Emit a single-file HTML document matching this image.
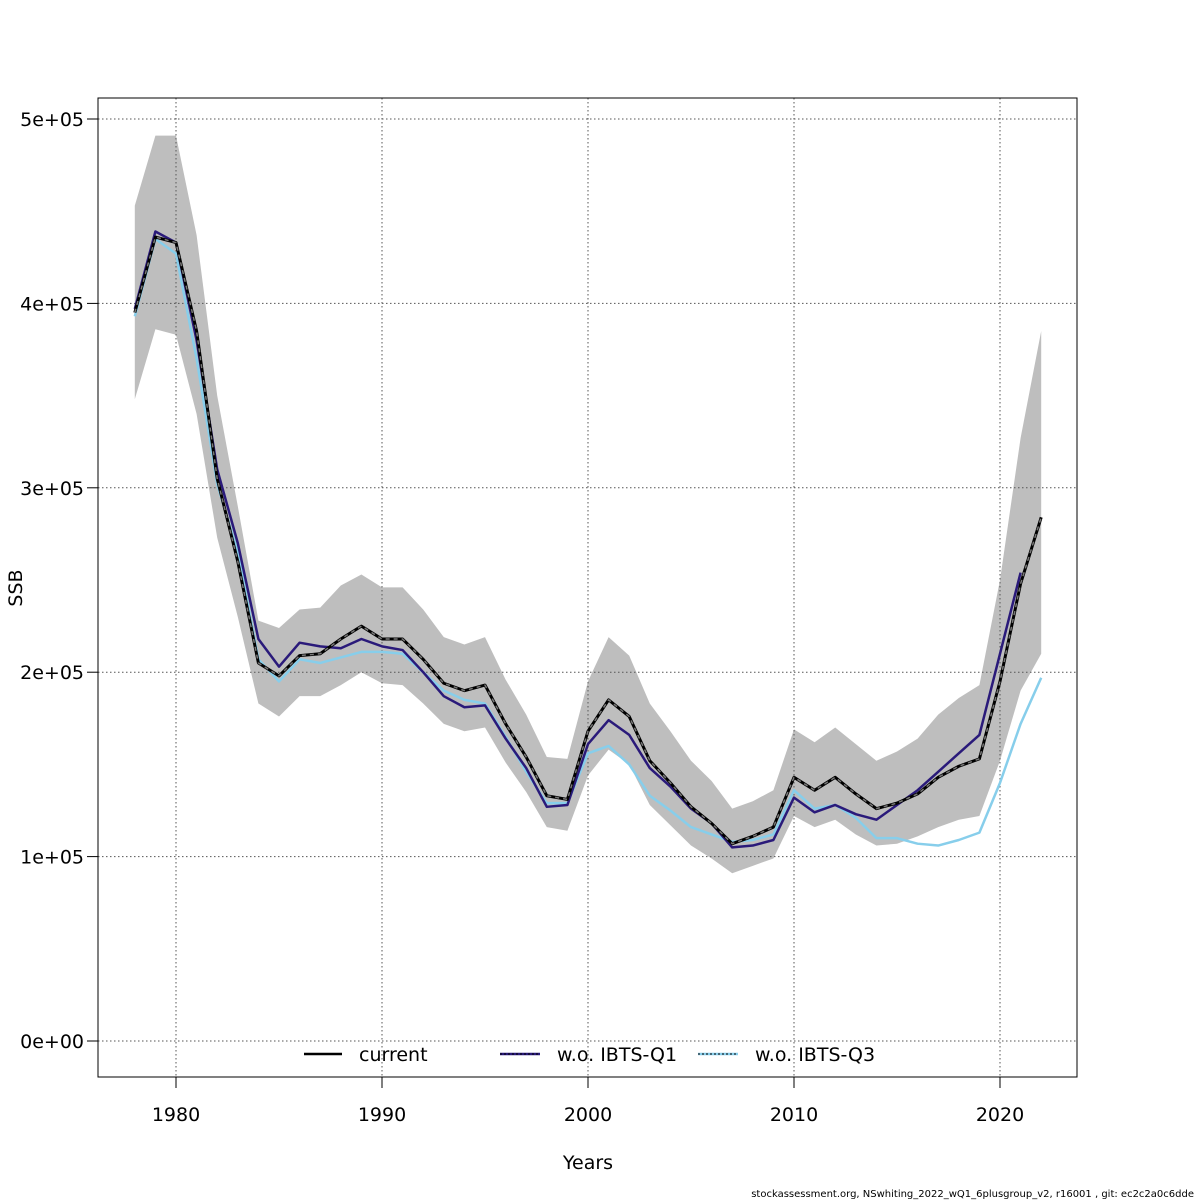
<!DOCTYPE html>
<html><head><meta charset="utf-8"><style>
html,body{margin:0;padding:0;background:#fff;}
svg{display:block;font-family:"DejaVu Sans","Liberation Sans",sans-serif;}
</style></head><body>
<svg id="chart" width="1200" height="1200" viewBox="0 0 1200 1200">
<g id="band"></g>
<g id="grid"></g>
<g id="series"></g>
<rect x="98" y="98" width="979" height="979" fill="none" stroke="#000" stroke-width="1"/>
<g id="axes"></g>
<text x="588" y="1169" font-size="19" text-anchor="middle">Years</text>
<text x="22" y="588" font-size="19" text-anchor="middle" transform="rotate(-90 22 588)">SSB</text>
<g>
<g><line x1="304" y1="1054" x2="342" y2="1054" stroke="#000" stroke-width="2.5"/><text x="359" y="1061" font-size="19">current</text></g>
<g><line x1="500" y1="1054" x2="540" y2="1054" stroke="#2a1a7a" stroke-width="2.5"/><line x1="500" y1="1054" x2="540" y2="1054" stroke="#000" stroke-width="1" stroke-dasharray="2,2"/><text x="557" y="1061" font-size="19">w.o. IBTS-Q1</text></g>
<g><line x1="698" y1="1054" x2="738" y2="1054" stroke="#87ceeb" stroke-width="2.5"/><line x1="698" y1="1054" x2="738" y2="1054" stroke="#000" stroke-width="1" stroke-dasharray="2,2"/><text x="755" y="1061" font-size="19">w.o. IBTS-Q3</text></g>
</g>
<text x="1194" y="1197" font-size="10" text-anchor="end">stockassessment.org, NSwhiting_2022_wQ1_6plusgroup_v2, r16001 , git: ec2c2a0c6dde</text>
</svg>
<script>
const years = [];
for (let y = 1978; y <= 2022; y++) years.push(y);
const current = [395,436,433,385,305,260,205,198,209,210,218,225,218,218,207,194,190,193,172,154,133,131,168,185,176,152,140,127,118,107,111,116,143,136,143,134,126,129,134,143,149,153,195,248,284];
const upper = [453,491,491,437,350,290,228,224,234,235,247,253,246,246,234,219,215,219,196,177,154,153,195,219,209,183,168,152,141,126,130,136,169,162,170,161,152,157,164,177,186,193,250,327,385];
const lower = [348,386,383,340,273,230,183,176,187,187,193,200,194,193,183,172,168,170,151,135,116,114,144,158,150,128,117,106,99,91,95,99,122,116,120,112,106,107,111,116,120,122,152,190,210];
const q1 = [397,439,433,380,310,270,218,203,216,214,213,218,214,212,200,187,181,182,164,148,127,128,161,174,166,148,138,126,118,105,106,109,132,124,128,123,120,128,136,146,156,166,210,254];
const q3 = [393,435,427,370,302,265,207,195,207,205,208,211,211,210,200,190,185,183,165,146,129,129,156,160,150,133,125,116,112,108,109,112,136,126,128,121,110,110,107,106,109,113,140,172,197];
const xTicks = [1980,1990,2000,2010,2020];
const yTicks = [0,100,200,300,400,500];
const yTickLabels = ["0e+00","1e+05","2e+05","3e+05","4e+05","5e+05"];

const NS = "http://www.w3.org/2000/svg";
const sx = yr => 176 + (yr - 1980) * 20.6;
const sy = v => 1041 - v * 1.844;
function mk(tag, attrs, parent){const e=document.createElementNS(NS,tag);for(const k in attrs)e.setAttribute(k,attrs[k]);parent.appendChild(e);return e;}

const band = document.getElementById('band');
let pts = years.map((y,i)=>sx(y)+','+sy(upper[i]));
for (let i = years.length-1; i >= 0; i--) pts.push(sx(years[i])+','+sy(lower[i]));
const poly = mk('polygon',{points:pts.join(' '),fill:'#bebebe',stroke:'none'},band);



const grid = document.getElementById('grid');
const axes = document.getElementById('axes');
xTicks.forEach(t=>{
  const g = mk('line',{x1:sx(t),x2:sx(t),y1:98,y2:1077,stroke:'#555','stroke-dasharray':'1.5,2.5','stroke-width':1},grid);
  
  
  mk('line',{x1:sx(t),x2:sx(t),y1:1077,y2:1088,stroke:'#000'},axes);
  const tx = mk('text',{x:sx(t),y:1121,'font-size':19,'text-anchor':'middle'},axes);
  tx.textContent = t;
  
  
});
yTicks.forEach((t,i)=>{
  const g = mk('line',{x1:98,x2:1077,y1:sy(t),y2:sy(t),stroke:'#555','stroke-dasharray':'1.5,2.5','stroke-width':1},grid);
  
  
  mk('line',{x1:87,x2:98,y1:sy(t),y2:sy(t),stroke:'#000'},axes);
  const tx = mk('text',{x:84,y:sy(t)+7,'font-size':19,'text-anchor':'end'},axes);
  tx.textContent = yTickLabels[i];
  
  
});

const series = document.getElementById('series');
function line(vals, color, w, dash, name){
  const p = vals.map((v,i)=>sx(years[i])+','+sy(v)).join(' ');
  const attrs = {points:p,fill:'none',stroke:color,'stroke-width':w,'stroke-linejoin':'round'};
  if (dash) attrs['stroke-dasharray'] = dash;
  const e = mk('polyline',attrs,series);
  
  
}
line(q3,'#87ceeb',2.5,null,'line-wo-ibts-q3');
line(q1,'#2a1a7a',2.5,null,'line-wo-ibts-q1');
line(current,'#000',3,null,'line-current');
line(current,'#777',1.5,'4,4','line-current-dash');
</script>
</body></html>
